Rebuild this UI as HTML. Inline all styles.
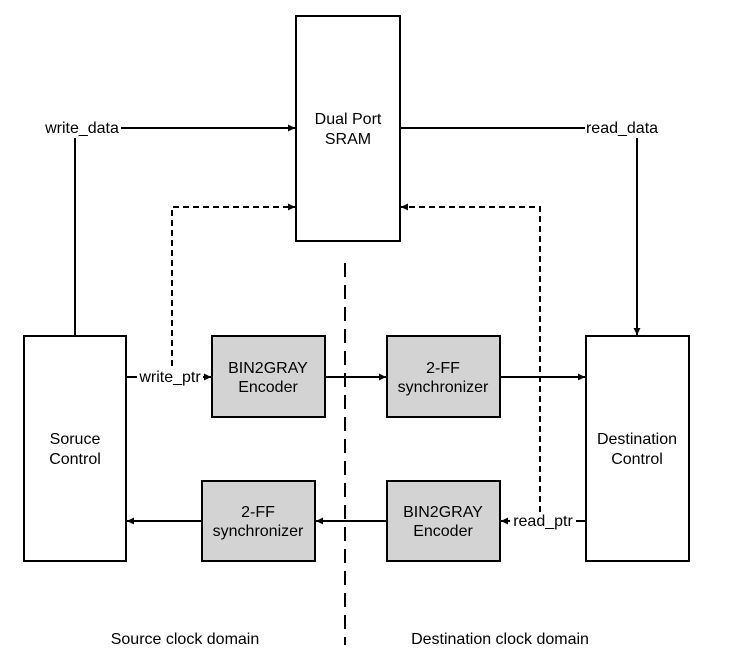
<!DOCTYPE html>
<html><head><meta charset="utf-8"><style>
html,body{margin:0;padding:0;background:#fff;}
svg{display:block;}
text{font-family:"Liberation Sans",Arial,sans-serif;font-size:16px;fill:#000;}
</style></head><body>
<svg width="732" height="671" viewBox="0 0 732 671" xmlns="http://www.w3.org/2000/svg">
<defs>
<marker id="a" markerWidth="8" markerHeight="8" refX="7" refY="4" orient="auto" markerUnits="userSpaceOnUse">
<path d="M0,0.5 L7,4 L0,7.5 Z" fill="#000"/></marker>
</defs>
<g stroke="#000" stroke-width="2" fill="none">
<line x1="121" y1="128" x2="295" y2="128" marker-end="url(#a)"/>
<line x1="75" y1="138" x2="75" y2="336"/>
<line x1="401" y1="128" x2="585" y2="128"/>
<line x1="637" y1="138" x2="637" y2="335" marker-end="url(#a)"/>
<polyline points="172,366 172,207 295,207" stroke-dasharray="6,4" marker-end="url(#a)"/>
<polyline points="540,512 540,207 401,207" stroke-dasharray="6,4" marker-end="url(#a)"/>
<line x1="126" y1="377" x2="137" y2="377"/>
<line x1="203" y1="377" x2="211" y2="377" marker-end="url(#a)"/>
<line x1="326" y1="377" x2="386" y2="377" marker-end="url(#a)"/>
<line x1="501" y1="377" x2="585" y2="377" marker-end="url(#a)"/>
<line x1="586" y1="521" x2="576" y2="521"/>
<line x1="510" y1="521" x2="501" y2="521" marker-end="url(#a)"/>
<line x1="387" y1="521" x2="316" y2="521" marker-end="url(#a)"/>
<line x1="202" y1="521" x2="127" y2="521" marker-end="url(#a)"/>
<line x1="345" y1="263" x2="345" y2="645" stroke-dasharray="14,8"/>
</g>
<g stroke="#000" stroke-width="2">
<rect x="296" y="16" width="104" height="225" fill="#fff"/>
<rect x="24" y="336" width="102" height="225" fill="#fff"/>
<rect x="586" y="336" width="103" height="225" fill="#fff"/>
<rect x="212" y="336" width="113" height="81" fill="#d3d3d3"/>
<rect x="387" y="336" width="113" height="81" fill="#d3d3d3"/>
<rect x="202" y="481" width="113" height="80" fill="#d3d3d3"/>
<rect x="387" y="481" width="113" height="80" fill="#d3d3d3"/>
</g>
<g text-anchor="middle">
<text x="348" y="124">Dual Port</text>
<text x="348" y="144">SRAM</text>
<text x="75" y="444">Soruce</text>
<text x="75" y="464">Control</text>
<text x="637" y="444">Destination</text>
<text x="637" y="464">Control</text>
<text x="268" y="373">BIN2GRAY</text>
<text x="268" y="392">Encoder</text>
<text x="443" y="373">2-FF</text>
<text x="443" y="392">synchronizer</text>
<text x="258" y="517">2-FF</text>
<text x="258" y="536">synchronizer</text>
<text x="443" y="517">BIN2GRAY</text>
<text x="443" y="536">Encoder</text>
<text x="82" y="133">write_data</text>
<text x="622" y="133">read_data</text>
<text x="170" y="382">write_ptr</text>
<text x="543" y="526">read_ptr</text>
<text x="185" y="644">Source clock domain</text>
<text x="500" y="644">Destination clock domain</text>
</g>
</svg>
</body></html>
